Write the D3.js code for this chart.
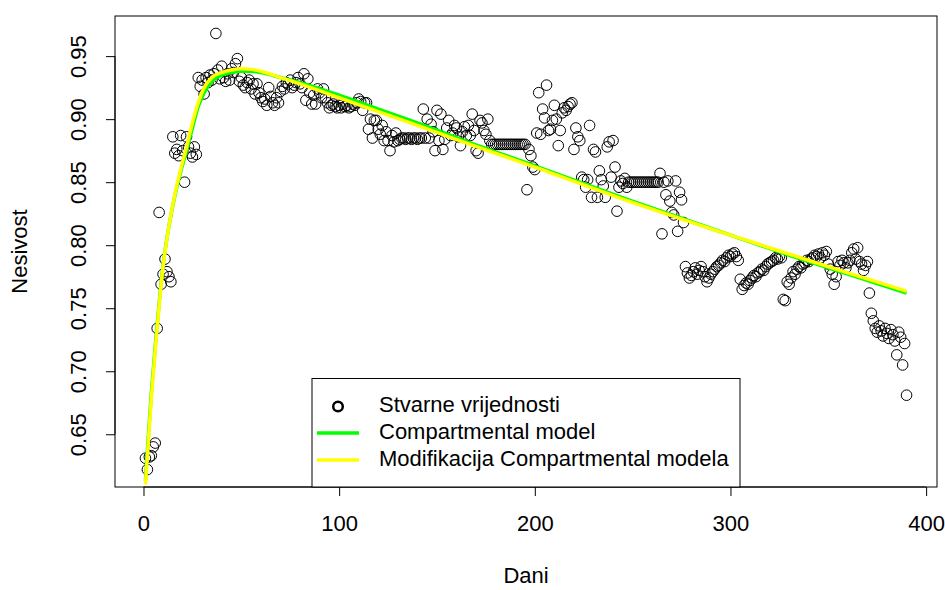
<!DOCTYPE html>
<html>
<head>
<meta charset="utf-8">
<script src="https://cdn.jsdelivr.net/npm/d3@7"></script>
<style>
  body { margin: 0; background: #fff; }
  text { font-family: "Liberation Sans", Arial, sans-serif; fill: #000; }
</style>
</head>
<body>
<div id="chart"></div>
<script>
// stvarne vrijednosti, one value per day (day 1 .. 390)
let nesivost = [
  0.631, 0.622, 0.632, 0.633, 0.640, 0.643, 0.734, 0.826, 0.769, 0.777,
  0.789, 0.779, 0.775, 0.771, 0.886, 0.873, 0.876, 0.871, 0.887, 0.875,
  0.850, 0.886, 0.878, 0.873, 0.870, 0.878, 0.872, 0.933, 0.926, 0.931,
  0.920, 0.933, 0.929, 0.935, 0.931, 0.936, 0.968, 0.939, 0.932, 0.942,
  0.933, 0.930, 0.936, 0.931, 0.940, 0.937, 0.944, 0.948, 0.930, 0.933,
  0.927, 0.925, 0.929, 0.931, 0.924, 0.928, 0.920, 0.928, 0.921, 0.917,
  0.914, 0.916, 0.911, 0.925, 0.918, 0.913, 0.911, 0.917, 0.913, 0.922,
  0.926, 0.924, 0.929, 0.928, 0.931, 0.925, 0.927, 0.929, 0.933, 0.928,
  0.925, 0.936, 0.915, 0.932, 0.921, 0.912, 0.919, 0.912, 0.924, 0.921,
  0.917, 0.924, 0.917, 0.913, 0.909, 0.911, 0.912, 0.910, 0.909, 0.911,
  0.909, 0.912, 0.910, 0.911, 0.909, 0.910, 0.912, 0.911, 0.913, 0.916,
  0.914, 0.907, 0.913, 0.913, 0.892, 0.900, 0.885, 0.899, 0.899, 0.892,
  0.888, 0.895, 0.883, 0.890, 0.883, 0.875, 0.887, 0.882, 0.889, 0.883,
  0.884, 0.885, 0.885, 0.884, 0.885, 0.885, 0.884, 0.885, 0.885, 0.884,
  0.885, 0.885, 0.908, 0.885, 0.900, 0.885, 0.896, 0.890, 0.875, 0.907,
  0.883, 0.904, 0.876, 0.884, 0.893, 0.899, 0.887, 0.889, 0.895, 0.893,
  0.886, 0.879, 0.890, 0.894, 0.887, 0.895, 0.887, 0.904, 0.891, 0.875,
  0.873, 0.899, 0.897, 0.891, 0.888, 0.900, 0.883, 0.880, 0.880, 0.880,
  0.880, 0.880, 0.880, 0.880, 0.880, 0.880, 0.880, 0.880, 0.880, 0.880,
  0.880, 0.880, 0.880, 0.880, 0.880, 0.844, 0.876, 0.871, 0.862, 0.860,
  0.889, 0.921, 0.888, 0.908, 0.901, 0.927, 0.891, 0.892, 0.899, 0.911,
  0.900, 0.879, 0.891, 0.905, 0.909, 0.907, 0.910, 0.912, 0.913, 0.876,
  0.893, 0.886, 0.883, 0.854, 0.852, 0.846, 0.852, 0.895, 0.838, 0.876,
  0.874, 0.838, 0.859, 0.852, 0.847, 0.838, 0.878, 0.882, 0.854, 0.883,
  0.862, 0.827, 0.846, 0.851, 0.849, 0.853, 0.846, 0.850, 0.850, 0.850,
  0.850, 0.850, 0.850, 0.850, 0.850, 0.850, 0.850, 0.850, 0.850, 0.850,
  0.850, 0.850, 0.850, 0.857, 0.809, 0.850, 0.840, 0.851, 0.835, 0.826,
  0.824, 0.851, 0.811, 0.842, 0.836, 0.818, 0.783, 0.778, 0.774, 0.776,
  0.779, 0.782, 0.777, 0.780, 0.783, 0.779, 0.775, 0.771, 0.774, 0.777,
  0.779, 0.781, 0.783, 0.784, 0.786, 0.788, 0.787, 0.790, 0.792, 0.791,
  0.793, 0.794, 0.791, 0.788, 0.773, 0.765, 0.768, 0.770, 0.769, 0.772,
  0.774, 0.776, 0.775, 0.778, 0.779, 0.781, 0.780, 0.783, 0.785, 0.786,
  0.787, 0.788, 0.790, 0.789, 0.791, 0.790, 0.757, 0.756, 0.771, 0.769,
  0.774, 0.779, 0.777, 0.781, 0.783, 0.782, 0.785, 0.786, 0.788, 0.787,
  0.789, 0.790, 0.792, 0.791, 0.793, 0.790, 0.794, 0.792, 0.795, 0.785,
  0.781, 0.777, 0.769, 0.775, 0.787, 0.784, 0.788, 0.786, 0.782, 0.786,
  0.788, 0.794, 0.797, 0.789, 0.798, 0.787, 0.785, 0.780, 0.784, 0.787,
  0.762, 0.746, 0.740, 0.734, 0.731, 0.736, 0.732, 0.728, 0.734, 0.730,
  0.726, 0.733, 0.729, 0.724, 0.713, 0.731, 0.727, 0.705, 0.722, 0.681
]
let dani = d3.range(1, nesivost.length + 1)

let modelDays = [1, 2, 3, 4, 6, 8, 10, 13, 16, 19, 22, 25, 28, 31, 35, 40, 45, 50, 55, 60,
  70, 80, 100, 120, 140, 164, 200, 248, 300, 332, 360, 390]
let compartmental = [0.613, 0.637, 0.660, 0.682, 0.720, 0.754, 0.784, 0.815, 0.839, 0.858,
  0.875, 0.893, 0.910, 0.921, 0.930, 0.935, 0.937, 0.938, 0.938, 0.937,
  0.933, 0.929, 0.919, 0.908, 0.897, 0.883, 0.863, 0.836, 0.808, 0.791, 0.777, 0.762]
let modifikacija = [0.610, 0.633, 0.656, 0.678, 0.717, 0.752, 0.783, 0.815, 0.840, 0.860,
  0.878, 0.897, 0.913, 0.925, 0.933, 0.937, 0.939, 0.940, 0.9395, 0.938,
  0.933, 0.928, 0.917, 0.906, 0.895, 0.8815, 0.862, 0.835, 0.808, 0.792, 0.778, 0.7635]

let xTicks = [0, 100, 200, 300, 400]
let yTicks = [0.65, 0.70, 0.75, 0.80, 0.85, 0.90, 0.95]
let legendLabels = ['Stvarne vrijednosti', 'Compartmental model', 'Modifikacija Compartmental modela']

let width = 945
let height = 590
let plotLeft = 115, plotRight = 937, plotTop = 16, plotBottom = 487
let fontSize = '22px'

// R style 4% padding of the data range
let xmin = d3.min(dani), xmax = d3.max(dani)
let ymin = d3.min(nesivost), ymax = d3.max(nesivost)
let xpad = (xmax - xmin) * 0.04
let ypad = (ymax - ymin) * 0.04

let x = d3.scaleLinear().domain([xmin - xpad, xmax + xpad]).range([plotLeft, plotRight])
let y = d3.scaleLinear().domain([ymin - ypad, ymax + ypad]).range([plotBottom, plotTop])

let svg = d3.select('#chart')
  .append('svg')
  .attr('width', width)
  .attr('height', height)

svg.append('clipPath')
  .attr('id', 'plot-clip')
  .append('rect')
  .attr('x', plotLeft)
  .attr('y', plotTop)
  .attr('width', plotRight - plotLeft)
  .attr('height', plotBottom - plotTop)

// points
svg.append('g')
  .selectAll('circle')
  .data(nesivost)
  .enter()
  .append('circle')
  .attr('cx', function (d, i) { return x(dani[i]) })
  .attr('cy', function (d) { return y(d) })
  .attr('r', 5.3)
  .style('fill', 'none')
  .style('stroke', '#000')
  .style('stroke-width', 1)

let line = d3.line()
  .x(function (d, i) { return x(modelDays[i]) })
  .y(function (d) { return y(d) })
  .curve(d3.curveMonotoneX)

let lines = svg.append('g').attr('clip-path', 'url(#plot-clip)')
lines.append('path')
  .attr('d', line(compartmental))
  .style('fill', 'none')
  .style('stroke', '#00ff00')
  .style('stroke-width', 3.5)
lines.append('path')
  .attr('d', line(modifikacija))
  .style('fill', 'none')
  .style('stroke', '#ffff00')
  .style('stroke-width', 3.5)

// axes, R look
let xAxis = d3.axisBottom(x).tickValues(xTicks).tickSize(9).tickFormat(d3.format('d'))
let gx = svg.append('g').attr('transform', 'translate(0,' + plotBottom + ')').call(xAxis)
gx.select('.domain').attr('d', 'M' + x(0) + ',0H' + x(400))
gx.selectAll('text')
  .attr('y', 38)
  .attr('dy', null)
  .attr('dominant-baseline', 'middle')
  .style('font-size', fontSize)
  .style('font-family', '"Liberation Sans", Arial, sans-serif')

let yAxis = d3.axisLeft(y).tickValues(yTicks).tickSize(9).tickFormat(d3.format('.2f'))
let gy = svg.append('g').attr('transform', 'translate(' + plotLeft + ',0)').call(yAxis)
gy.select('.domain').attr('d', 'M0,' + y(0.65) + 'V' + y(0.95))
gy.selectAll('text').remove()
gy.selectAll('.tick')
  .append('text')
  .attr('transform', 'translate(-35,0) rotate(-90)')
  .attr('text-anchor', 'middle')
  .attr('dominant-baseline', 'middle')
  .style('font-size', fontSize)
  .style('font-family', '"Liberation Sans", Arial, sans-serif')
  .text(function (d) { return d3.format('.2f')(d) })

svg.selectAll('.domain, .tick line').style('stroke', '#000')

// box
svg.append('rect')
  .attr('x', plotLeft)
  .attr('y', plotTop)
  .attr('width', plotRight - plotLeft)
  .attr('height', plotBottom - plotTop)
  .style('fill', 'none')
  .style('stroke', '#000')
  .style('stroke-width', 1)

// axis titles
svg.append('text')
  .attr('x', (plotLeft + plotRight) / 2)
  .attr('y', 577)
  .attr('text-anchor', 'middle')
  .attr('dominant-baseline', 'middle')
  .style('font-size', fontSize)
  .text('Dani')

svg.append('text')
  .attr('transform', 'translate(21,' + (plotTop + plotBottom) / 2 + ') rotate(-90)')
  .attr('text-anchor', 'middle')
  .attr('dominant-baseline', 'middle')
  .style('font-size', fontSize)
  .text('Nesivost')

// legend
let lg = svg.append('g')
lg.append('rect')
  .attr('x', 312)
  .attr('y', 378.5)
  .attr('width', 428)
  .attr('height', plotBottom - 378.5)
  .style('fill', '#fff')
  .style('stroke', '#000')
  .style('stroke-width', 1)

let rowY = [406.5, 433, 460]
lg.append('circle')
  .attr('cx', 338)
  .attr('cy', rowY[0])
  .attr('r', 4.8)
  .style('fill', 'none')
  .style('stroke', '#000')
  .style('stroke-width', 2.5)
lg.append('line')
  .attr('x1', 317).attr('x2', 359)
  .attr('y1', rowY[1]).attr('y2', rowY[1])
  .style('stroke', '#00ff00')
  .style('stroke-width', 3.5)
lg.append('line')
  .attr('x1', 317).attr('x2', 359)
  .attr('y1', rowY[2]).attr('y2', rowY[2])
  .style('stroke', '#ffff00')
  .style('stroke-width', 3.5)

lg.selectAll('.leg-text')
  .data(legendLabels)
  .enter()
  .append('text')
  .attr('class', 'leg-text')
  .attr('x', 379)
  .attr('y', function (d, i) { return rowY[i] })
  .attr('dominant-baseline', 'middle')
  .style('font-size', fontSize)
  .text(function (d) { return d })
</script>
</body>
</html>
